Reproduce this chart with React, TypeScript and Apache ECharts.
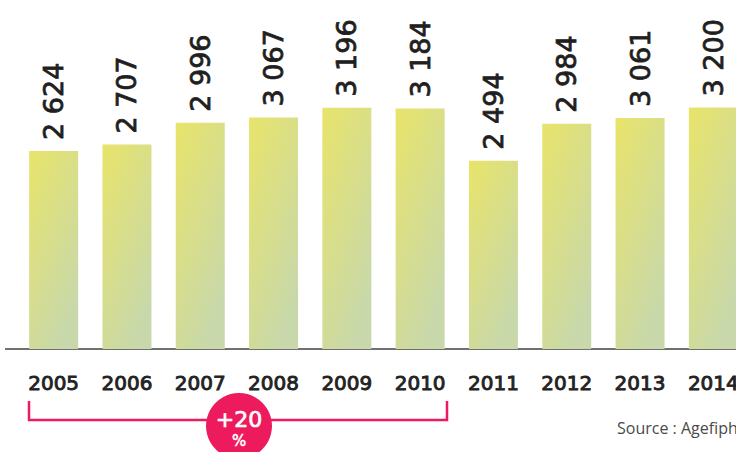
import React, { useEffect, useRef } from "react";
import * as echarts from "echarts";

const years = ["2005", "2006", "2007", "2008", "2009", "2010", "2011", "2012", "2013", "2014"];
const values = [2624, 2707, 2996, 3067, 3196, 3184, 2494, 2984, 3061, 3200];
const growthLabel = "+20";
const sourceText = "Source : Agefiph";

const fmt = (v: number) => {
  const s = String(v);
  return s.length > 3 ? s.slice(0, s.length - 3) + " " + s.slice(-3) : s;
};

export default function App() {
  const ref = useRef<HTMLDivElement>(null);
  useEffect(() => {
    if (!ref.current) return;
    const chart = echarts.init(ref.current, null, { renderer: "svg" });
    const pink = "#EE1A5E";
    chart.setOption({
      animation: false,
      backgroundColor: "#ffffff",
      grid: { left: 17, width: 733, top: 47, height: 302, containLabel: false, outerBoundsMode: "none" } as any,
      xAxis: {
        type: "category",
        data: years,
        axisLine: { show: true, lineStyle: { color: "#707070", width: 2 } },
        axisTick: { show: false },
        axisLabel: {
          color: "#222222",
          fontFamily: "DejaVu Sans",
          fontWeight: "normal",
          fontSize: 20,
          textBorderColor: "#222222",
          textBorderWidth: 0.9,
          margin: 24,
        },
      },
      yAxis: {
        type: "value",
        min: 0,
        max: 4000,
        show: false,
        splitLine: { show: false },
      },
      series: [
        {
          type: "bar",
          data: values,
          barWidth: 49,
          itemStyle: {
            color: new echarts.graphic.LinearGradient(0, 0, 0.6, 1, [
              { offset: 0, color: "#E8E46A" },
              { offset: 1, color: "#C8D8AA" },
            ]),
          },
          label: {
            show: true,
            position: "top",
            rotate: 90,
            align: "left",
            verticalAlign: "middle",
            distance: 11,
            color: "#1f1f1f",
            fontFamily: "DejaVu Sans",
            fontSize: 27,
            textBorderColor: "#1f1f1f",
            textBorderWidth: 0.8,
            formatter: (p: any) => fmt(p.value),
          },
        },
      ],
      graphic: [
        {
          type: "line",
          shape: { x1: 5, y1: 349, x2: 18, y2: 349 },
          style: { stroke: "#707070", lineWidth: 2 },
        },
        {
          type: "polyline",
          shape: { points: [[29, 401], [29, 420], [447, 420], [447, 401]] },
          style: { stroke: pink, lineWidth: 2.5, fill: null },
        },
        {
          type: "circle",
          shape: { cx: 239, cy: 426, r: 33 },
          style: { fill: pink },
        },
        {
          type: "text",
          x: 239,
          y: 419,
          style: {
            text: growthLabel,
            fill: "#ffffff",
            font: "22px 'DejaVu Sans'",
            stroke: "#ffffff",
            lineWidth: 0.7,
            align: "center",
            verticalAlign: "middle",
          },
        },
        {
          type: "text",
          x: 239,
          y: 441,
          style: {
            text: "%",
            fill: "#ffffff",
            font: "15px 'DejaVu Sans'",
            stroke: "#ffffff",
            lineWidth: 0.5,
            align: "center",
            verticalAlign: "middle",
          },
        },
        {
          type: "text",
          x: 617,
          y: 428,
          style: {
            text: sourceText,
            fill: "#4a4a4a",
            font: "16px 'Open Sans'",
            align: "left",
            verticalAlign: "middle",
          },
        },
      ],
    });
    return () => chart.dispose();
  }, []);
  return (
    <div
      ref={ref}
      style={{ position: "fixed", left: 0, top: 0, width: 736, height: 452 }}
    />
  );
}
